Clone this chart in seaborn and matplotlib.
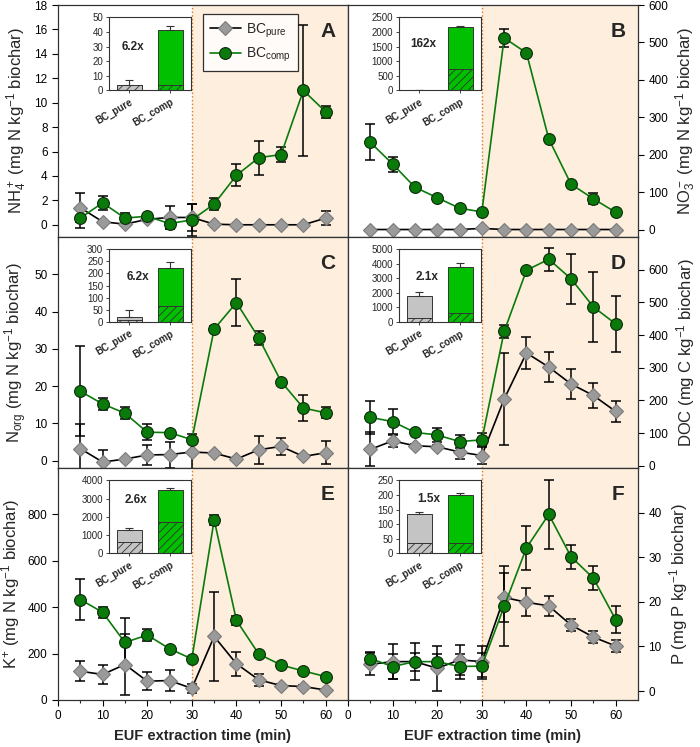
import numpy as np
import pandas as pd
import matplotlib
matplotlib.use("Agg")
import matplotlib.pyplot as plt
import seaborn as sns

sns.set_style("ticks")
plt.rcParams['font.family'] = ['Liberation Sans', 'DejaVu Sans']
plt.rcParams['mathtext.fontset'] = 'custom'
plt.rcParams['mathtext.rm'] = 'Liberation Sans'
plt.rcParams['mathtext.it'] = 'Liberation Sans'
plt.rcParams['mathtext.bf'] = 'Liberation Sans:bold'
plt.rcParams['hatch.linewidth'] = 0.6

# extraction times (min)
time = [5, 10, 15, 20, 25, 30, 35, 40, 45, 50, 55, 60]

# A: NH4+
nh4_pure = [1.4, 0.25, 0.05, 0.45, 0.6, 0.6, 0.05, 0.0, 0.0, 0.0, 0.0, 0.55]
nh4_pure_err = [1.2, 0.1, 0.1, 0.1, 0.95, 1.1, 0.05, 0.05, 0.05, 0.05, 0.05, 0.55]
nh4_comp = [0.55, 1.8, 0.55, 0.7, 0.1, 0.4, 1.7, 4.05, 5.5, 5.75, 11.0, 9.25]
nh4_comp_err = [0.85, 0.55, 0.4, 0.2, 0.45, 1.3, 0.5, 0.9, 1.4, 0.6, 5.4, 0.5]
nh4_bar_total = [4.0, 41.0]
nh4_bar_hatch = [4.0, 4.0]
nh4_bar_err = [3.2, 3.3]

# B: NO3-
no3_pure = [0, 0, 0, 0, 0, 3, 0, 0, 0, 0, 0, 0]
no3_pure_err = [1, 1, 1, 1, 1, 2, 1, 1, 1, 1, 1, 1]
no3_comp = [233, 175, 113, 85, 57, 47, 512, 472, 242, 121, 82, 46]
no3_comp_err = [48, 20, 5, 5, 5, 5, 25, 5, 5, 5, 15, 5]
no3_bar_total = [13, 2170]
no3_bar_hatch = [13, 730]
no3_bar_err = [0, 20]

# C: Norg
norg_pure = [3.2, -0.4, 0.4, 1.5, 1.6, 2.3, 2.0, 0.4, 2.9, 3.8, 1.1, 2.1]
norg_pure_err = [6.6, 3.3, 0.4, 2.8, 3.5, 4.8, 0.4, 0.4, 3.8, 2.3, 0.4, 3.1]
norg_comp = [18.6, 15.2, 12.7, 7.6, 7.5, 5.6, 35.3, 42.4, 32.9, 21.2, 14.1, 12.8]
norg_comp_err = [12.1, 1.7, 1.6, 2.2, 0.5, 0.5, 0.8, 6.3, 1.8, 0.5, 3.6, 1.5]
norg_bar_total = [20, 222]
norg_bar_hatch = [10, 68]
norg_bar_err = [30, 25]

# D: DOC
doc_pure = [50, 76, 61, 58, 42, 31, 204, 345, 302, 250, 215, 166]
doc_pure_err = [52, 20, 5, 5, 20, 25, 140, 48, 46, 45, 37, 33]
doc_comp = [148, 135, 102, 94, 74, 79, 411, 598, 632, 572, 486, 434]
doc_comp_err = [50, 40, 5, 20, 20, 20, 20, 5, 35, 77, 108, 86]
doc_bar_total = [1800, 3750]
doc_bar_hatch = [300, 630]
doc_bar_err = [280, 330]

# E: K+
k_pure = [124, 110, 153, 81, 84, 50, 274, 156, 87, 62, 58, 43]
k_pure_err = [42, 40, 130, 38, 45, 20, 190, 52, 25, 5, 5, 5]
k_comp = [433, 378, 248, 280, 221, 177, 776, 343, 198, 151, 125, 101]
k_comp_err = [90, 25, 105, 25, 5, 5, 20, 20, 5, 5, 5, 5]
k_bar_total = [1300, 3450]
k_bar_hatch = [650, 1720]
k_bar_err = [80, 150]

# F: P
p_pure = [6.0, 6.6, 6.6, 5.1, 7.0, 6.6, 21.0, 19.9, 19.1, 14.8, 12.1, 10.1]
p_pure_err = [2.5, 3.9, 2.0, 5.0, 3.3, 3.5, 5.5, 3.1, 2.3, 1.3, 1.3, 1.3]
p_comp = [7.3, 5.5, 6.6, 6.6, 5.5, 5.6, 19.0, 32.1, 39.6, 30.1, 25.3, 16.0]
p_comp_err = [1.5, 2.8, 4.2, 1.7, 2.8, 3.0, 9.0, 5.0, 7.7, 2.7, 2.7, 3.0]
p_bar_total = [133, 198]
p_bar_hatch = [37, 37]
p_bar_err = [10, 7]

bar_labels = ["BC_pure", "BC_comp"]

panels = [
    dict(letter="A", pure=nh4_pure, pe=nh4_pure_err, comp=nh4_comp, ce=nh4_comp_err,
         tot=nh4_bar_total, hat=nh4_bar_hatch, berr=nh4_bar_err, ratio="6.2x",
         ylab=r"NH$_4^+$ (mg N kg$^{-1}$ biochar)", ylim=(-1, 18), yt=np.arange(0, 19, 2),
         iylim=(0, 50), iyt=np.arange(0, 51, 10), rpos=(0.3, 0.6)),
    dict(letter="B", pure=no3_pure, pe=no3_pure_err, comp=no3_comp, ce=no3_comp_err,
         tot=no3_bar_total, hat=no3_bar_hatch, berr=no3_bar_err, ratio="162x",
         ylab=r"NO$_3^-$ (mg N kg$^{-1}$ biochar)", ylim=(-20, 600), yt=np.arange(0, 601, 100),
         iylim=(0, 2500), iyt=np.arange(0, 2501, 500), rpos=(0.3, 0.63)),
    dict(letter="C", pure=norg_pure, pe=norg_pure_err, comp=norg_comp, ce=norg_comp_err,
         tot=norg_bar_total, hat=norg_bar_hatch, berr=norg_bar_err, ratio="6.2x",
         ylab=r"N$_{org}$ (mg N kg$^{-1}$ biochar)", ylim=(-2, 60), yt=np.arange(0, 51, 10),
         iylim=(0, 300), iyt=np.arange(0, 301, 50), rpos=(0.36, 0.62)),
    dict(letter="D", pure=doc_pure, pe=doc_pure_err, comp=doc_comp, ce=doc_comp_err,
         tot=doc_bar_total, hat=doc_bar_hatch, berr=doc_bar_err, ratio="2.1x",
         ylab=r"DOC (mg C kg$^{-1}$ biochar)", ylim=(-7, 700), yt=np.arange(0, 601, 100),
         iylim=(0, 5000), iyt=np.arange(0, 5001, 1000), rpos=(0.34, 0.62)),
    dict(letter="E", pure=k_pure, pe=k_pure_err, comp=k_comp, ce=k_comp_err,
         tot=k_bar_total, hat=k_bar_hatch, berr=k_bar_err, ratio="2.6x",
         ylab=r"K$^{+}$ (mg N kg$^{-1}$ biochar)", ylim=(0, 1000), yt=np.arange(0, 801, 200),
         iylim=(0, 4000), iyt=np.arange(0, 4001, 1000), rpos=(0.33, 0.73)),
    dict(letter="F", pure=p_pure, pe=p_pure_err, comp=p_comp, ce=p_comp_err,
         tot=p_bar_total, hat=p_bar_hatch, berr=p_bar_err, ratio="1.5x",
         ylab=r"P (mg P kg$^{-1}$ biochar)", ylim=(-2, 50), yt=np.arange(0, 41, 10),
         iylim=(0, 250), iyt=np.arange(0, 251, 50), rpos=(0.37, 0.75)),
]

green = "#0a7a0a"
gray = "#9a9a9a"
shade = "#fdeede"

fig = plt.figure(figsize=(7.0, 7.47), dpi=100)
lefts = [58 / 700, 348 / 700]
w = 290 / 700
rows = [(5, 237), (237, 468), (468, 700)]

for i, p in enumerate(panels):
    r, c = divmod(i, 2)
    top, bot = rows[r]
    ax = fig.add_axes([lefts[c], 1 - bot / 747, w, (bot - top) / 747])
    ax.axvspan(30, 65, color=shade, zorder=0, lw=0)
    ax.axvline(30, color="#e07a20", ls=":", lw=1.0, zorder=1)

    df = pd.DataFrame({"time": time, "pure": p["pure"], "comp": p["comp"]})
    ax.errorbar(time, p["pure"], yerr=p["pe"], fmt="none", ecolor="black",
                elinewidth=1.1, capsize=3.5, capthick=1.1, zorder=2)
    ax.errorbar(time, p["comp"], yerr=p["ce"], fmt="none", ecolor="black",
                elinewidth=1.1, capsize=3.5, capthick=1.1, zorder=2)
    sns.lineplot(data=df, x="time", y="pure", ax=ax, color="black", lw=1.2,
                 marker="D", markersize=7.5, markerfacecolor=gray,
                 markeredgecolor="#7a7a7a", markeredgewidth=0.8, zorder=3,
                 label=r"BC$_{pure}$")
    sns.lineplot(data=df, x="time", y="comp", ax=ax, color=green, lw=1.2,
                 marker="o", markersize=8.5, markerfacecolor=green,
                 markeredgecolor="#0b2a0b", markeredgewidth=0.8, zorder=4,
                 label=r"BC$_{comp}$")

    ax.set_xlim(0, 65)
    ax.set_ylim(*p["ylim"])
    ax.set_yticks(p["yt"])
    ax.set_xticks(np.arange(0, 61, 10))
    ax.set_xticks(np.arange(5, 61, 10), minor=True)
    ax.tick_params(axis="both", labelsize=8.5, direction="out", length=4, width=0.8, colors="black")
    ax.tick_params(axis="x", which="minor", length=2.5, width=0.8)
    for s in ax.spines.values():
        s.set_visible(True)
        s.set_linewidth(0.9)
        s.set_color("#333333")
    if c == 1:
        ax.yaxis.tick_right()
        ax.yaxis.set_label_position("right")
    ax.set_ylabel(p["ylab"], fontsize=12, labelpad=4)
    if r == 2:
        ax.set_xlabel("EUF extraction time (min)", fontsize=10.5, fontweight="bold", labelpad=5)
    else:
        ax.set_xlabel("")
        ax.set_xticklabels([])
    ax.text(0.93, 0.885, p["letter"], transform=ax.transAxes, fontsize=15,
            fontweight="bold", ha="center", va="center")

    if i == 0:
        leg = ax.legend(loc="upper left", bbox_to_anchor=(0.5, 0.96), fontsize=10,
                        frameon=True, fancybox=False, edgecolor="black",
                        handlelength=2.2, handletextpad=0.4, borderpad=0.5,
                        labelspacing=0.45, borderaxespad=0)
        leg.get_frame().set_linewidth(0.9)
    else:
        ax.get_legend().remove()

    # inset with cumulative totals
    ins = ax.inset_axes([0.175, 0.632, 0.283, 0.315])
    ins.set_facecolor("white")
    ins.set_zorder(5)
    xpos = [0, 1]
    cols = ["#c4c4c4", "#00c000"]
    ins.bar(xpos, p["tot"], width=0.6, color=cols, edgecolor="#333333", lw=0.7,
            yerr=[[0, 0], p["berr"]], error_kw=dict(elinewidth=0.8, capsize=3, capthick=0.8, ecolor="#333333"))
    ins.bar(xpos, p["hat"], width=0.6, color=cols, edgecolor="#333333", lw=0.7, hatch="////")
    ins.set_xlim(-0.5, 1.5)
    ins.set_ylim(*p["iylim"])
    ins.set_yticks(p["iyt"])
    ins.set_xticks(xpos)
    ins.set_xticklabels(bar_labels, rotation=30, ha="right", rotation_mode="anchor",
                        fontsize=7, fontweight="bold")
    ins.tick_params(axis="y", labelsize=7, length=2.5, width=0.6, pad=1.5)
    ins.tick_params(axis="x", length=2.5, width=0.6, pad=2)
    for s in ins.spines.values():
        s.set_visible(True)
        s.set_linewidth(0.8)
        s.set_color("#333333")
    ins.text(p["rpos"][0], p["rpos"][1], p["ratio"], transform=ins.transAxes,
             fontsize=8.5, fontweight="bold", ha="center", va="center")

fig.savefig("out.png", dpi=100)
